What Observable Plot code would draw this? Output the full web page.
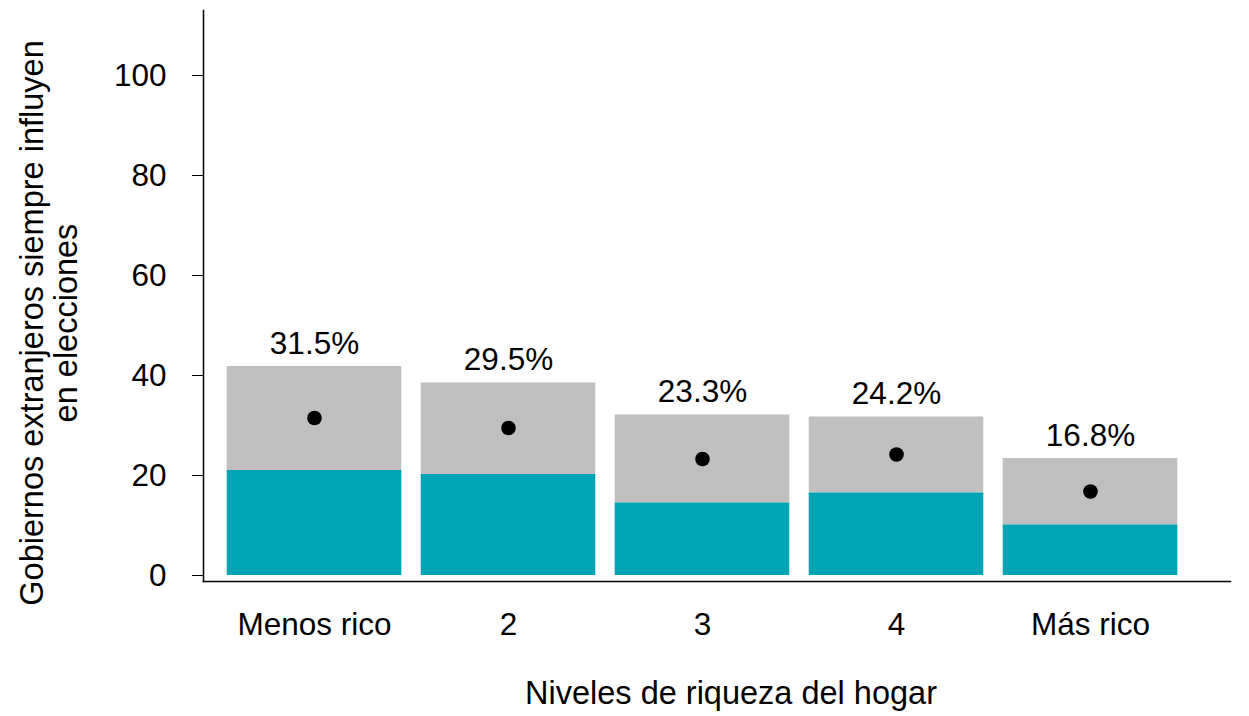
<!DOCTYPE html>
<html><head><meta charset="utf-8">
<script src="https://cdn.jsdelivr.net/npm/d3@7"></script>
<script src="https://cdn.jsdelivr.net/npm/@observablehq/plot@0.6"></script>
<style>body{margin:0;background:#fff}</style>
</head><body><div id="chart"></div>
<script>
const categories = ["Menos rico", "2", "3", "4", "Más rico"];
const means = [31.5, 29.5, 23.3, 24.2, 16.8];
const lower = [21.0, 20.2, 14.5, 16.5, 10.1];
const upper = [41.8, 38.5, 32.1, 31.7, 23.4];
const labels = ["31.5%", "29.5%", "23.3%", "24.2%", "16.8%"];
const yTicks = [0, 20, 40, 60, 80, 100];
const xTitle = "Niveles de riqueza del hogar";
const yTitle = "Gobiernos extranjeros siempre influyen\nen elecciones";

const data = categories.map((c, i) => ({cat: c, mean: means[i], lo: lower[i], hi: upper[i], label: labels[i]}));

const chart = Plot.plot({
  width: 1249, height: 716,
  marginLeft: 203, marginRight: 19, marginTop: 10, marginBottom: 135,
  style: {fontFamily: "'Liberation Sans', Arial, sans-serif", fontSize: "31.5px", background: "white", color: "black"},
  x: {domain: categories, padding: 0, paddingOuter: 0.139, align: 0.244, label: null},
  y: {domain: [-1.2, 113], label: null},
  marks: [
    Plot.barY(data, {x: "cat", y1: "lo", y2: "hi", fill: "#bfbfbf", insetLeft: 9.7, insetRight: 9.7}),
    Plot.barY(data, {x: "cat", y: "lo", fill: "#00a3b3", insetLeft: 9.7, insetRight: 9.7}),
    Plot.dot(data, {x: "cat", y: "mean", r: 7.3, fill: "black", stroke: null}),
    Plot.text(data, {x: "cat", y: "hi", text: "label", lineAnchor: "bottom", dy: -13, fontSize: 31.5}),
    Plot.axisY({ticks: yTicks, tickSize: 11, tickPadding: 26, label: null, fontSize: 31.5}),
    Plot.axisX({tickSize: 0, tickPadding: 31, label: null, fontSize: 31.5}),
    Plot.frame({anchor: "left", strokeWidth: 1.5}),
    Plot.frame({anchor: "bottom", strokeWidth: 1.5}),
    Plot.text([xTitle], {frameAnchor: "bottom", textAnchor: "middle", dx: 14, dy: 122, lineAnchor: "bottom", text: d => d, fontSize: 32.5}),
    Plot.text([yTitle], {frameAnchor: "left", textAnchor: "middle", dx: -127, dy: 27, rotate: -90, lineAnchor: "bottom", lineHeight: 1.02, text: d => d, fontSize: 32.5})
  ]
});
document.getElementById("chart").appendChild(chart);
</script>
</body></html>
